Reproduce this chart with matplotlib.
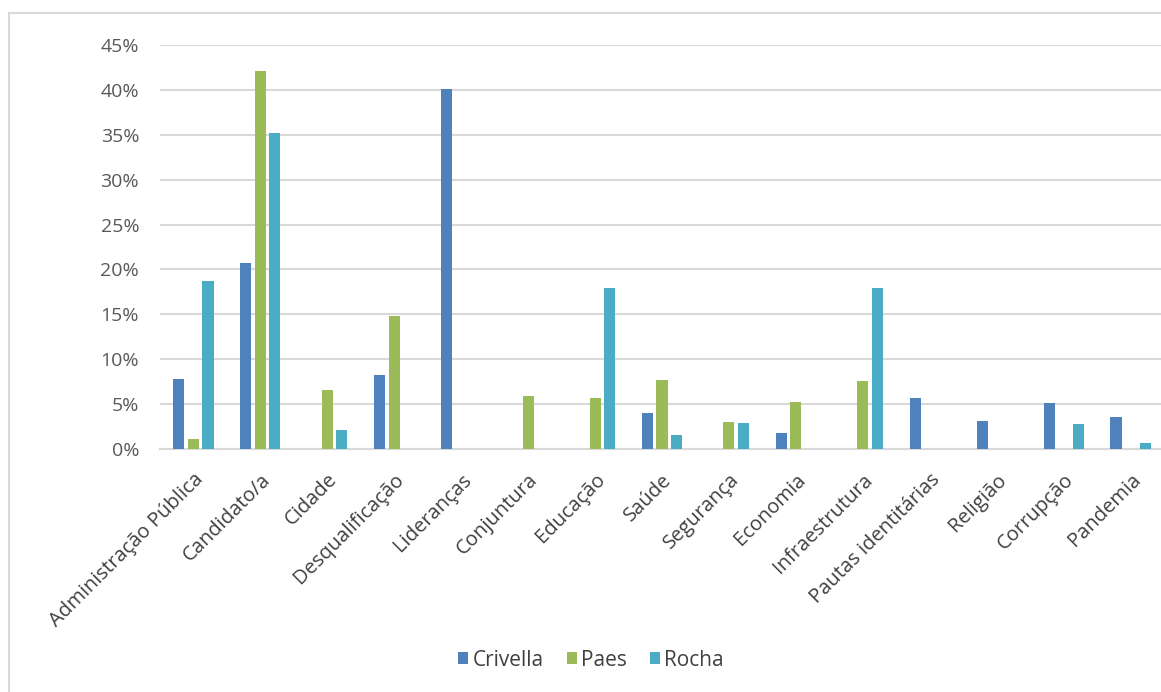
import matplotlib
matplotlib.use("Agg")
import matplotlib.pyplot as plt
from matplotlib.patches import Rectangle
from matplotlib.ticker import FuncFormatter
import numpy as np

# dados (percentuais)
categorias = ["Administração Pública", "Candidato/a", "Cidade", "Desqualificação",
              "Lideranças", "Conjuntura", "Educação", "Saúde", "Segurança",
              "Economia", "Infraestrutura", "Pautas identitárias", "Religião",
              "Corrupção", "Pandemia"]
crivella = [7.8, 20.7, 0, 8.2, 40.1, 0, 0, 4.0, 0, 1.8, 0, 5.7, 3.1, 5.1, 3.6]
paes = [1.1, 42.1, 6.6, 14.8, 0, 5.9, 5.7, 7.7, 3.0, 5.2, 7.6, 0, 0, 0, 0]
rocha = [18.7, 35.2, 2.1, 0, 0, 0, 17.9, 1.6, 2.9, 0, 17.9, 0, 0, 2.8, 0.7]

series = [("Crivella", crivella, "#4F81BD"),
          ("Paes", paes, "#9BBB59"),
          ("Rocha", rocha, "#4BACC6")]

plt.rcParams["font.family"] = ["Open Sans", "DejaVu Sans"]

fig = plt.figure(figsize=(11.61, 6.92), dpi=100)
ax = fig.add_axes([160 / 1161, 1 - 449 / 692, 1004 / 1161, 404 / 692])

x = np.arange(len(categorias))
largura = 0.165
passo = 0.217
for i, (nome, valores, cor) in enumerate(series):
    ax.bar(x + (i - 1) * passo, valores, width=largura, color=cor, label=nome, zorder=3)

ax.set_xlim(-0.5, len(categorias) - 0.5)
ax.set_ylim(0, 45)
ax.set_yticks(np.arange(0, 46, 5))
ax.yaxis.set_major_formatter(FuncFormatter(lambda v, p: f"{v:.0f}%"))
ax.grid(axis="y", color="#d9d9d9", linewidth=1.5, zorder=0)
ax.set_axisbelow(True)

for lado in ["top", "right", "left"]:
    ax.spines[lado].set_visible(False)
ax.spines["bottom"].set_color("#d9d9d9")
ax.spines["bottom"].set_linewidth(1.5)

ax.tick_params(axis="both", length=0)
ax.tick_params(axis="y", labelsize=14, labelcolor="#595959", pad=15)
ax.set_xticks(x)
ax.set_xticklabels(categorias, rotation=45, ha="right", rotation_mode="anchor",
                   fontsize=14.5, color="#404040")
ax.tick_params(axis="x", pad=15)

ax.legend(loc="center", bbox_to_anchor=(591 / 1161, 1 - 660 / 692),
          bbox_transform=fig.transFigure, ncol=3, frameon=False, fontsize=15,
          handlelength=0.5, handleheight=0.5, handletextpad=0.2,
          columnspacing=1.1, labelcolor="#404040")

# moldura do gráfico
fig.patches.append(Rectangle((9 / 1161, -0.01), 1.1, 1 - 13 / 692 + 0.01,
                             transform=fig.transFigure, fill=False,
                             edgecolor="#d9d9d9", linewidth=1.5))

fig.savefig("out.png", dpi=100)
